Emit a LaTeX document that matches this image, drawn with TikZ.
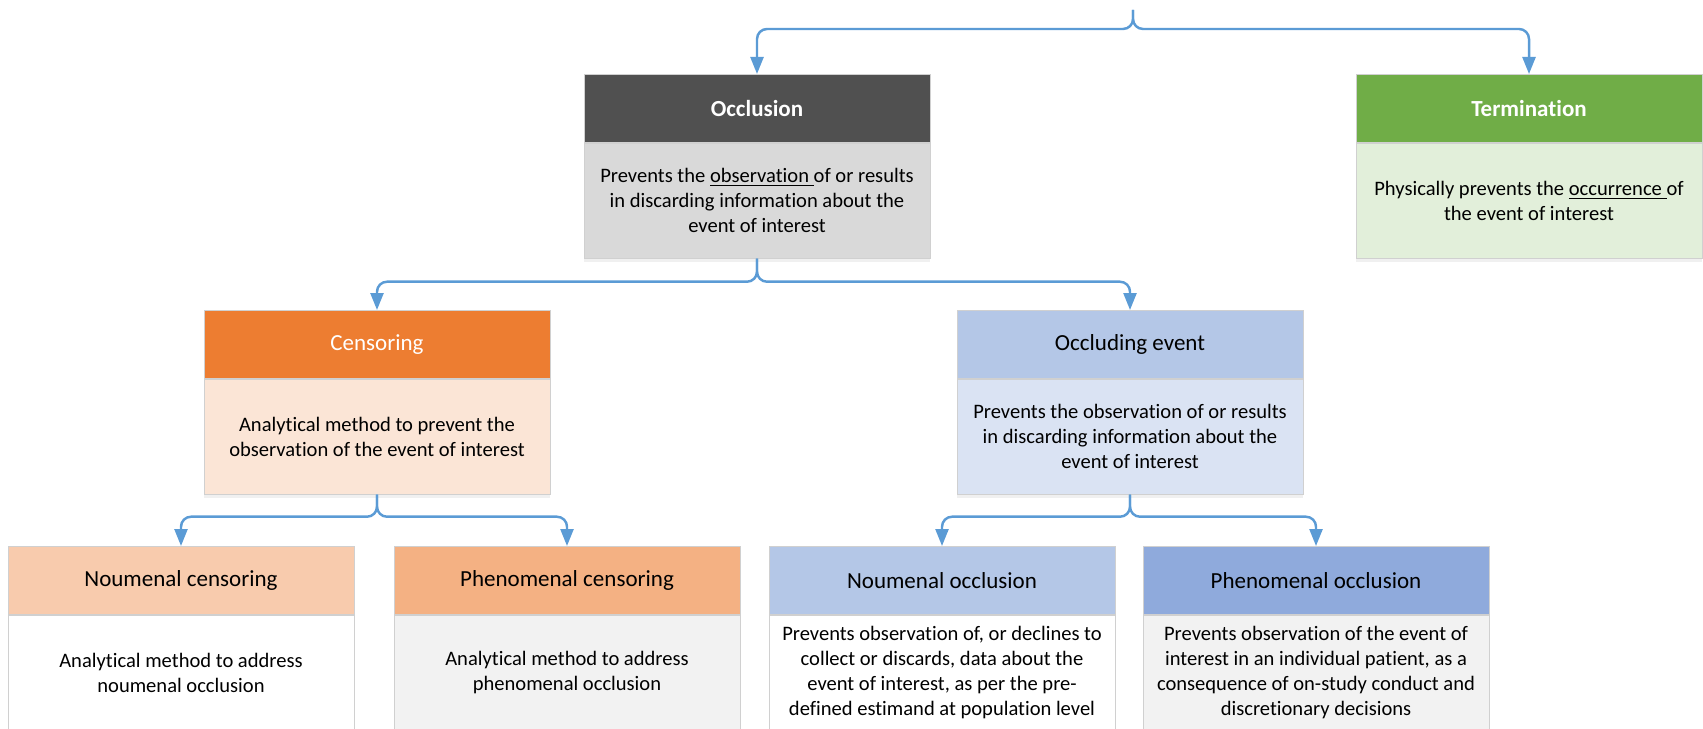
\documentclass[tikz,border=0pt]{standalone}
\usepackage{fontspec}
\setmainfont{Carlito}[Ligatures=NoCommon]
\usepackage{tikz}
\usetikzlibrary{arrows.meta, positioning, shadows}
\definecolor{linkblue}{HTML}{5B9BD5}
\definecolor{edgegray}{HTML}{D0D0D0}
\definecolor{occlhead}{HTML}{505050}
\definecolor{occlbody}{HTML}{D9D9D9}
\definecolor{termhead}{HTML}{70AD47}
\definecolor{termbody}{HTML}{E2EFDA}
\definecolor{censhead}{HTML}{ED7D31}
\definecolor{censbody}{HTML}{FBE5D6}
\definecolor{eventhead}{HTML}{B4C7E7}
\definecolor{eventbody}{HTML}{DAE3F3}
\definecolor{ncenshead}{HTML}{F8CBAD}
\definecolor{pcenshead}{HTML}{F4B183}
\definecolor{pocchead}{HTML}{8FAADC}
\definecolor{paleback}{HTML}{F2F2F2}

\begin{document}
\begin{tikzpicture}[x=0.02cm, y=-0.02cm,
  headbox/.style={draw=edgegray, line width=0.5pt, minimum width=6.92cm, minimum height=1.36cm,
    anchor=north, inner sep=0pt, font=\fontsize{13.1}{15}\selectfont},
  bodybox/.style={draw=edgegray, line width=0.5pt, minimum width=6.92cm, minimum height=2.3cm,
    anchor=north, inner sep=0pt, align=center, font=\fontsize{11.7}{14.2}\selectfont,
    drop shadow={opacity=0.12, shadow xshift=0pt, shadow yshift=-2pt}},
  link/.style={draw=linkblue, line width=1.4pt, rounded corners=0.2cm,
    -{Triangle[length=0.34cm, width=0.26cm]}}]
  \useasboundingbox (0,0) rectangle (1703,729);
  \clip (0,0) rectangle (1703,729);
  % top level
  \node[headbox, fill=occlhead, text=white] (occl) at (757,74) {\bfseries Occlusion};
  \node[bodybox, fill=occlbody] (occl-b) at (occl.south)
    {Prevents the \underline{observation\ }of or results\\in discarding information about the\\event of interest};
  \node[headbox, fill=termhead, text=white] (term) at (1529,74) {\bfseries Termination};
  \node[bodybox, fill=termbody] (term-b) at (term.south)
    {Physically prevents the \underline{occurrence\ }of\\the event of interest};
  % second level
  \node[headbox, fill=censhead, text=white] (cens) at (377,310) {Censoring};
  \node[bodybox, fill=censbody] (cens-b) at (cens.south)
    {Analytical method to prevent the\\observation of the event of interest};
  \node[headbox, fill=eventhead] (occev) at (1130,310) {Occluding event};
  \node[bodybox, fill=eventbody] (occev-b) at (occev.south)
    {Prevents the observation of or results\\in discarding information about the\\event of interest};
  % third level
  \node[headbox, fill=ncenshead] (ncens) at (181,546) {Noumenal censoring};
  \node[bodybox, fill=white] (ncens-b) at (ncens.south)
    {Analytical method to address\\noumenal occlusion};
  \node[headbox, fill=pcenshead] (pcens) at (567,546) {Phenomenal censoring};
  \node[bodybox, fill=paleback] (pcens-b) at (pcens.south)
    {Analytical method to address\\phenomenal occlusion};
  \node[headbox, fill=eventhead] (nocc) at (942,546) {Noumenal occlusion};
  \node[bodybox, fill=white] (nocc-b) at (nocc.south)
    {Prevents observation of, or declines to\\collect or discards, data about the\\event of interest, as per the pre-\\defined estimand at population level};
  \node[headbox, fill=pocchead] (pocc) at (1316,546) {Phenomenal occlusion};
  \node[bodybox, fill=paleback] (pocc-b) at (pocc.south)
    {Prevents observation of the event of\\interest in an individual patient, as a\\consequence of on-study conduct and\\discretionary decisions};
  % tree links
  \coordinate (root) at (1133,10);
  \draw[link] (root) -- ++(0,19) -| (occl.north);
  \draw[link] (root) -- ++(0,19) -| (term.north);
  \draw[link] (occl-b.south) -- ++(0,23) -| (cens.north);
  \draw[link] (occl-b.south) -- ++(0,23) -| (occev.north);
  \draw[link] (cens-b.south) -- ++(0,22) -| (ncens.north);
  \draw[link] (cens-b.south) -- ++(0,22) -| (pcens.north);
  \draw[link] (occev-b.south) -- ++(0,22) -| (nocc.north);
  \draw[link] (occev-b.south) -- ++(0,22) -| (pocc.north);
\end{tikzpicture}
\end{document}
